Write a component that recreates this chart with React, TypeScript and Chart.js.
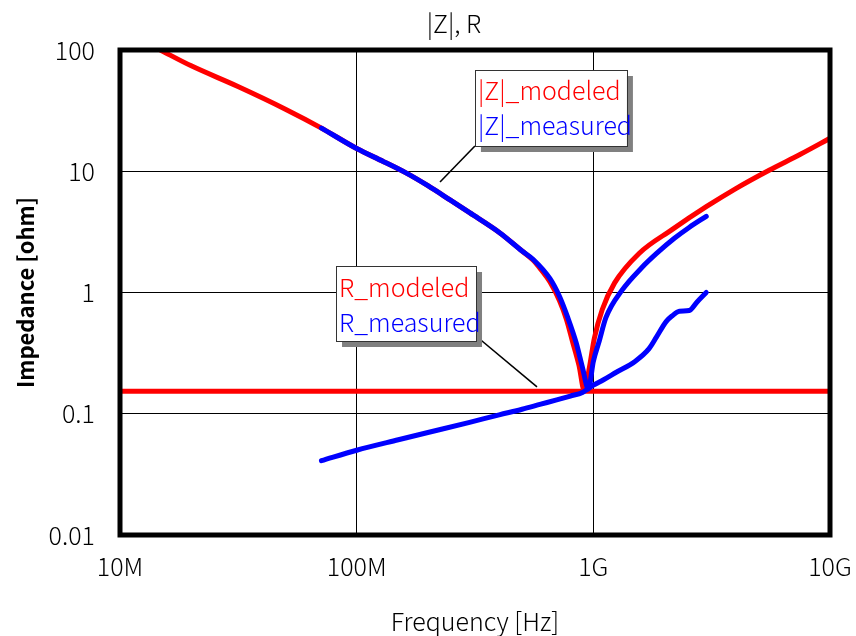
import React, { useEffect, useRef } from 'react';
import { Chart, registerables } from 'chart.js';

Chart.register(...registerables);

const FONT = '"Noto Sans CJK JP", "Noto Sans", sans-serif';
const WEIGHT = 300;

// Axis ticks
const xTickValues = [1e7, 1e8, 1e9, 1e10];
const xTickLabels = ['10M', '100M', '1G', '10G'];
const yTickValues = [0.01, 0.1, 1, 10, 100];
const yTickLabels = ['0.01', '0.1', '1', '10', '100'];

// |Z| modeled
const zModFreq = [14.8e6, 20e6, 31.5e6, 50e6, 71e6, 100e6, 130e6, 163e6, 200e6, 248e6, 300e6, 403e6, 500e6, 556e6, 600e6, 656e6, 719e6, 770e6, 815e6, 870e6, 916e6, 962e6, 1.01e9, 1.09e9, 1.23e9, 1.56e9, 2.15e9, 3.0e9, 4.0e9, 5.53e9, 7.5e9, 10e9];
const zModVal = [100, 74, 50, 32.5, 22.7, 15.4, 12.0, 9.6, 7.6, 5.8, 4.55, 3.1, 2.2, 1.85, 1.55, 1.22, 0.86, 0.6, 0.4, 0.25, 0.155, 0.24, 0.42, 0.72, 1.2, 2.1, 3.3, 5.1, 7.2, 10.2, 13.8, 18.7];

// |Z| measured
const zMeasFreq = [71e6, 100e6, 130e6, 163e6, 200e6, 248e6, 300e6, 403e6, 500e6, 556e6, 656e6, 719e6, 780e6, 848e6, 900e6, 953e6, 1.0e9, 1.06e9, 1.13e9, 1.32e9, 1.6e9, 1.85e9, 2.2e9, 2.54e9, 3.0e9];
const zMeasVal = [22.7, 15.4, 12.0, 9.6, 7.6, 5.8, 4.55, 3.1, 2.2, 1.88, 1.3, 0.93, 0.62, 0.38, 0.24, 0.16, 0.27, 0.40, 0.62, 1.04, 1.6, 2.1, 2.8, 3.44, 4.25];

// R modeled
const rModFreq = [1e7, 1e10];
const rModVal = [0.153, 0.153];

// R measured
const rMeasFreq = [71e6, 100e6, 150e6, 200e6, 300e6, 400e6, 500e6, 600e6, 700e6, 800e6, 900e6, 1.0e9, 1.1e9, 1.25e9, 1.5e9, 1.72e9, 1.85e9, 2.03e9, 2.15e9, 2.31e9, 2.54e9, 2.75e9, 3.0e9];
const rMeasVal = [0.041, 0.050, 0.061, 0.070, 0.085, 0.098, 0.109, 0.120, 0.130, 0.140, 0.150, 0.172, 0.19, 0.22, 0.27, 0.344, 0.43, 0.575, 0.64, 0.70, 0.71, 0.84, 1.0];

const RED = '#FF0000';
const BLUE = '#0000FF';

const callouts = [
  { lines: ['|Z|_modeled', '|Z|_measured'], colors: [RED, BLUE], boxAt: [3.16e8, 68.4], size: [152, 76], pointer: [2.25e8, 8.15], corner: 'bl' },
  { lines: ['R_modeled', 'R_measured'], colors: [RED, BLUE], boxAt: [8.18e7, 1.654], size: [140, 75], pointer: [5.78e8, 0.1664], corner: 'br' },
];

const toPts = (xs: number[], ys: number[]) => xs.map((x, i) => ({ x, y: ys[i] }));

const framePlugin = {
  id: 'frame',
  afterDatasetsDraw(chart: any) {
    const { ctx, chartArea } = chart;
    const { left, top, right, bottom } = chartArea;
    ctx.save();
    ctx.strokeStyle = '#000';
    ctx.lineWidth = 5;
    ctx.strokeRect(left, top, right - left, bottom - top);
    ctx.restore();
  },
};

const calloutPlugin = {
  id: 'callouts',
  afterDraw(chart: any) {
    const { ctx } = chart;
    const xs = chart.scales.x;
    const ys = chart.scales.y;
    ctx.save();
    // title
    ctx.font = `${WEIGHT} 25px ${FONT}`;
    ctx.fillStyle = '#000';
    ctx.textAlign = 'center';
    ctx.textBaseline = 'middle';
    ctx.fillText('|Z|, R', 454, 23);

    callouts.forEach((c) => {
      const bx = xs.getPixelForValue(c.boxAt[0]);
      const by = ys.getPixelForValue(c.boxAt[1]);
      const [w, h] = c.size;
      const px = xs.getPixelForValue(c.pointer[0]);
      const py = ys.getPixelForValue(c.pointer[1]);
      const sx = c.corner === 'bl' ? bx : bx + w;
      const sy = c.corner === 'bl' ? by + h : by + h - 5;
      ctx.strokeStyle = '#000';
      ctx.lineWidth = 1.6;
      ctx.beginPath();
      ctx.moveTo(sx, sy);
      ctx.lineTo(px, py);
      ctx.stroke();
      ctx.fillStyle = '#808080';
      ctx.fillRect(bx + 6, by + 6, w, h);
      ctx.fillStyle = '#fff';
      ctx.fillRect(bx, by, w, h);
      ctx.strokeStyle = '#333';
      ctx.lineWidth = 1;
      ctx.strokeRect(Math.round(bx) + 0.5, Math.round(by) + 0.5, w, h);
      ctx.font = `${WEIGHT} 25px ${FONT}`;
      ctx.textAlign = 'left';
      ctx.textBaseline = 'middle';
      c.lines.forEach((t, i) => {
        ctx.fillStyle = c.colors[i];
        ctx.fillText(t, bx + 3, by + 21 + i * 35);
      });
    });
    ctx.restore();
  },
};

export default function App() {
  const ref = useRef<HTMLCanvasElement>(null);
  useEffect(() => {
    document.body.style.margin = '0';
    const canvas = ref.current;
    if (!canvas) return;
    const lineDefaults = {
      pointRadius: 0,
      pointHoverRadius: 0,
      borderWidth: 5,
      fill: false,
      cubicInterpolationMode: 'monotone' as const,
      borderJoinStyle: 'round' as const,
      borderCapStyle: 'round' as const,
    };
    const chart = new Chart(canvas, {
      type: 'line',
      data: {
        datasets: [
          { ...lineDefaults, label: '|Z|_measured', data: toPts(zMeasFreq, zMeasVal), borderColor: BLUE, backgroundColor: BLUE, order: 1 },
          { ...lineDefaults, label: 'R_measured', data: toPts(rMeasFreq, rMeasVal), borderColor: BLUE, backgroundColor: BLUE, order: 2 },
          { ...lineDefaults, label: '|Z|_modeled', data: toPts(zModFreq, zModVal), borderColor: RED, backgroundColor: RED, order: 3 },
          { ...lineDefaults, label: 'R_modeled', data: toPts(rModFreq, rModVal), borderColor: RED, backgroundColor: RED, borderCapStyle: 'butt', order: 4 },
        ],
      },
      options: {
        animation: false,
        responsive: false,
        events: [],
        layout: { padding: { top: 50, right: 26, bottom: 0, left: 0 } },
        plugins: {
          legend: { display: false },
          tooltip: { enabled: false },
          title: { display: false },
        },
        scales: {
          x: {
            type: 'logarithmic',
            min: 1e7,
            max: 1e10,
            afterBuildTicks: (scale: any) => {
              scale.ticks = xTickValues.map((v) => ({ value: v }));
            },
            afterFit: (scale: any) => {
              scale.height = 101;
              scale.paddingLeft = 0;
              scale.paddingRight = 0;
            },
            ticks: {
              autoSkip: false,
              maxRotation: 0,
              minRotation: 0,
              padding: 16,
              color: '#000',
              font: { family: FONT, size: 25, weight: WEIGHT },
              callback: (_v: any, i: number) => xTickLabels[i],
            },
            grid: { color: '#000', lineWidth: 1, drawTicks: false },
            border: { display: false },
            title: {
              display: true,
              text: 'Frequency [Hz]',
              color: '#000',
              font: { family: FONT, size: 25, weight: WEIGHT },
              padding: { top: 0, bottom: 0 },
            },
          },
          y: {
            type: 'logarithmic',
            min: 0.01,
            max: 100,
            afterBuildTicks: (scale: any) => {
              scale.ticks = yTickValues.map((v) => ({ value: v }));
            },
            afterFit: (scale: any) => {
              scale.width = 120;
              scale.paddingTop = 0;
              scale.paddingBottom = 0;
            },
            ticks: {
              autoSkip: false,
              padding: 25,
              color: '#000',
              font: { family: FONT, size: 25, weight: WEIGHT },
              callback: (_v: any, i: number) => yTickLabels[i],
            },
            grid: { color: '#000', lineWidth: 1, drawTicks: false },
            border: { display: false },
            title: {
              display: true,
              text: 'Impedance [ohm]',
              color: '#000',
              font: { family: FONT, size: 22, weight: 'bold' },
              padding: { top: 12, bottom: 0 },
            },
          },
        },
      },
      plugins: [framePlugin, calloutPlugin],
    });
    return () => chart.destroy();
  }, []);
  return <canvas ref={ref} width={856} height={636} style={{ display: 'block' }} />;
}
